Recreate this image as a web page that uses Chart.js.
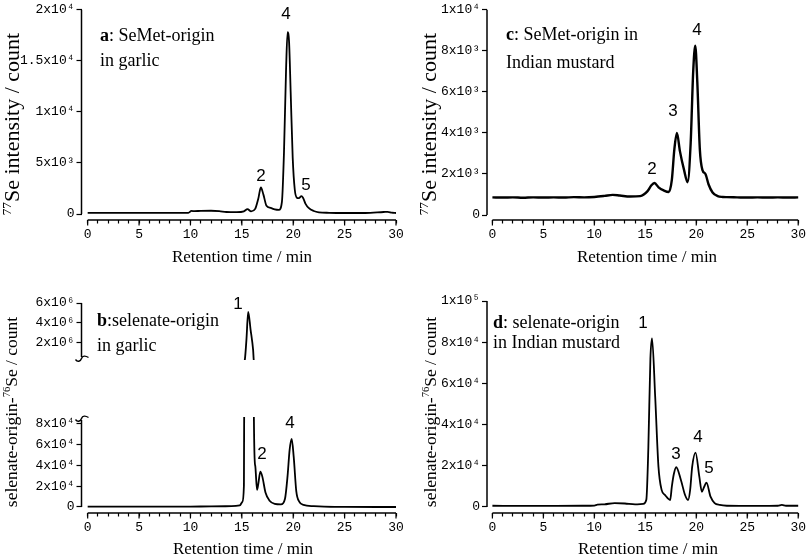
<!DOCTYPE html>
<html><head><meta charset="utf-8">
<script src="https://cdn.jsdelivr.net/npm/chart.js@4/dist/chart.umd.min.js"></script>
<style>
html,body{margin:0;padding:0;background:#fff;}
#wrap{position:relative;width:809px;height:556px;overflow:hidden;background:#fff;}
canvas{position:absolute;left:0;top:0;}
</style></head><body>
<div id="wrap">
<canvas id="ca" width="809" height="556"></canvas>
<canvas id="cc" width="809" height="556"></canvas>
<canvas id="cb1" width="809" height="556"></canvas>
<canvas id="cb2" width="809" height="556"></canvas>
<canvas id="cd" width="809" height="556"></canvas>
</div>
<script>
// ---------- data ----------
const aTime = [0, 2, 4, 6, 8, 9.8, 10.1, 10.4, 11, 12, 12.8, 13.5, 14.5, 15.2, 15.55, 15.9, 16.3, 16.6, 16.85, 17.1, 17.4, 17.8, 18.2, 18.6, 18.9, 19.1, 19.3, 19.45, 19.6, 19.75, 19.95, 20.15, 20.35, 20.55, 20.8, 20.95, 21.2, 21.5, 22, 22.5, 23.5, 25, 27, 28.8, 29.2, 29.6, 30];
const aVal  = [120, 110, 110, 110, 110, 120, 300, 280, 310, 320, 280, 200, 180, 260, 480, 260, 500, 1500, 2600, 1900, 800, 600, 450, 400, 1200, 6000, 14000, 17800, 16800, 12000, 5500, 2400, 1600, 1550, 1750, 1600, 1000, 600, 300, 170, 120, 100, 100, 200, 220, 130, 100];

const cTime = [0, 1, 2, 3, 4, 5, 6, 7, 8, 9, 10, 11, 11.8, 12.5, 13.5, 14.5, 15.2, 15.6, 15.9, 16.3, 16.8, 17.3, 17.6, 17.85, 18.1, 18.4, 18.8, 19.15, 19.45, 19.7, 19.9, 20.1, 20.35, 20.6, 20.9, 21.2, 21.6, 22.1, 22.6, 23, 24, 25, 26, 27, 28, 29, 30];
const cVal  = [860, 850, 860, 840, 860, 850, 860, 850, 870, 860, 880, 930, 980, 950, 900, 920, 1150, 1450, 1560, 1350, 1200, 1120, 1700, 3200, 4000, 3100, 2200, 1600, 3500, 7000, 8250, 6500, 3200, 2200, 2000, 1500, 1100, 920, 880, 870, 860, 850, 860, 850, 860, 850, 860];

const bTime = [0, 5, 10, 12, 14, 14.8, 15.05, 15.2, 15.3, 15.45, 15.62, 15.85, 16.1, 16.17, 16.3, 16.48, 16.6, 16.8, 17.0, 17.3, 17.7, 18.2, 18.8, 19.2, 19.45, 19.65, 19.85, 20.05, 20.3, 20.6, 21.0, 22.0, 23.0, 25, 30];
const bVal  = [300, 300, 400, 600, 800, 1500, 5000, 20000, 300000, 2300000, 5100000, 3300000, 1200000, 90000, 40000, 16500, 22000, 34000, 29000, 14000, 6000, 3000, 2500, 8000, 30000, 55000, 65500, 48000, 15000, 5000, 2000, 800, 300, 100, 0];

const dTime = [0, 3, 6, 9, 10, 10.3, 11, 12, 13, 14, 14.8, 15.1, 15.3, 15.5, 15.66, 15.97, 16.29, 16.6, 16.94, 17.44, 17.6, 17.8, 18.03, 18.5, 18.9, 19.2, 19.4, 19.6, 19.93, 20.3, 20.55, 20.75, 21.0, 21.4, 21.8, 22.3, 23, 26, 28, 28.4, 28.8, 30];
const dVal  = [600, 550, 550, 600, 700, 1100, 1300, 1900, 1700, 1300, 1500, 3500, 29000, 72000, 81900, 53500, 19600, 8300, 5800, 3400, 9800, 16000, 19300, 13000, 5800, 3400, 8300, 19600, 26400, 14700, 7400, 9500, 11800, 5000, 1900, 1000, 600, 500, 600, 1000, 600, 600];

const xTicks = [0,1,2,3,4,5,6,7,8,9,10,11,12,13,14,15,16,17,18,19,20,21,22,23,24,25,26,27,28,29,30];
const xMajor = [0,5,10,15,20,25,30];
const xMajorLabels = ['0','5','10','15','20','25','30'];

const aYTicks = [0, 5000, 10000, 15000, 20000];
const aYLabels = ['0', '5x10³', '1x10⁴', '1.5x10⁴', '2x10⁴'];
const cYTicks = [0, 2000, 4000, 6000, 8000, 10000];
const cYLabels = ['0', '2x10³', '4x10³', '6x10³', '8x10³', '1x10⁴'];
const bUpYTicks = [2000000, 4000000, 6000000];
const bUpYLabels = ['2x10⁶', '4x10⁶', '6x10⁶'];
const bLoYTicks = [0, 20000, 40000, 60000, 80000];
const bLoYLabels = ['0', '2x10⁴', '4x10⁴', '6x10⁴', '8x10⁴'];
const dYTicks = [0, 20000, 40000, 60000, 80000, 100000];
const dYLabels = ['0', '2x10⁴', '4x10⁴', '6x10⁴', '8x10⁴', '1x10⁵'];

// ---------- drawing helpers ----------
const SERIF = 'Liberation Serif';
const SANS = 'Liberation Sans';
const MONO = '"Liberation Mono", "DejaVu Sans Mono", monospace';

function rich(ctx, t) {
  const size = t.size, fam = t.family;
  const parts = t.segs.map(s => {
    const sz = s.sup ? size * 0.6 : size;
    const font = (s.bold ? 'bold ' : '') + sz + 'px "' + fam + '"';
    ctx.font = font;
    return { s, font, w: ctx.measureText(s.t).width };
  });
  const W = parts.reduce((a, p) => a + p.w, 0);
  ctx.save();
  ctx.translate(t.x, t.y);
  if (t.rotate) ctx.rotate(-Math.PI / 2);
  ctx.fillStyle = '#000';
  ctx.textBaseline = 'alphabetic';
  ctx.textAlign = 'left';
  let x0 = t.align === 'center' ? -W / 2 : 0;
  const base = size * 0.34;
  for (const p of parts) {
    ctx.font = p.font;
    ctx.fillText(p.s.t, x0, base - (p.s.sup ? size * 0.38 : 0));
    x0 += p.w;
  }
  ctx.restore();
}

function breakMark(ctx, x, y) {
  ctx.beginPath();
  ctx.moveTo(x - 6, y + 1);
  ctx.bezierCurveTo(x - 4, y + 4, x - 1, y + 3, x, y);
  ctx.bezierCurveTo(x + 1, y - 3, x + 4, y - 3, x + 7, y - 1);
  ctx.stroke();
}

function makeChart(id, p) {
  const Y_W = 70, X_H = 30;
  const pad = {
    left: p.area.left - Y_W,
    right: 809 - p.area.right,
    top: p.area.top,
    bottom: p.showX ? 556 - p.area.bottom - X_H : 556 - p.area.bottom
  };
  const deco = {
    id: 'deco' + id,
    afterDraw(chart) {
      const ctx = chart.ctx, ca = chart.chartArea;
      const xs = chart.scales.x, ys = chart.scales.y;
      ctx.save();
      ctx.strokeStyle = '#000';
      ctx.lineWidth = 1.5;
      const yt = p.yLineTop ? p.yLineTop(ca, ys) : ys.getPixelForValue(p.yMax);
      const yb = p.yLineBottom ? p.yLineBottom(ca, ys) : ys.getPixelForValue(0);
      ctx.beginPath();
      ctx.moveTo(ca.left, yt);
      ctx.lineTo(ca.left, yb);
      ctx.stroke();
      if (p.showX) {
        ctx.beginPath();
        ctx.moveTo(xs.getPixelForValue(0), ca.bottom);
        ctx.lineTo(xs.getPixelForValue(30), ca.bottom);
        ctx.stroke();
        ctx.lineWidth = 1.2;
        for (const v of xMajor) {
          const px = xs.getPixelForValue(v);
          ctx.beginPath();
          ctx.moveTo(px, ca.bottom);
          ctx.lineTo(px, ca.bottom + 5.5);
          ctx.stroke();
        }
      }
      ctx.lineWidth = 1.4;
      if (p.breakBottom) breakMark(ctx, ca.left, yb + 1.5);
      if (p.breakTop) breakMark(ctx, ca.left, yt - 1.5);
      ctx.restore();
      (p.texts || []).forEach(t => rich(ctx, t));
    }
  };
  return new Chart(document.getElementById(id), {
    type: 'line',
    data: {
      datasets: [{
        data: p.time.map((t, i) => ({ x: t, y: p.val[i] })),
        borderColor: '#000',
        borderWidth: p.lw || 1.8,
        pointRadius: 0,
        fill: false,
        cubicInterpolationMode: 'monotone',
        clip: p.clip != null ? p.clip : 2
      }]
    },
    options: {
      responsive: false,
      animation: false,
      events: [],
      layout: { padding: pad, autoPadding: false },
      plugins: { legend: { display: false }, tooltip: { enabled: false }, title: { display: false } },
      scales: {
        x: {
          type: 'linear',
          display: !!p.showX,
          min: p.xMin, max: 30,
          afterBuildTicks: s => { s.ticks = xTicks.map(v => ({ value: v })); },
          afterFit: s => { s.height = X_H; },
          grid: { display: true, drawOnChartArea: false, drawTicks: true, tickLength: 3.5, tickWidth: 1.2, tickColor: '#000' },
          border: { display: false },
          ticks: {
            autoSkip: false, maxRotation: 0, minRotation: 0, padding: 3,
            color: '#000', font: { family: MONO, size: 13 },
            callback: v => { const k = xMajor.indexOf(v); return k >= 0 ? xMajorLabels[k] : ''; }
          }
        },
        y: {
          type: 'linear',
          min: p.yMin, max: p.yMax,
          afterBuildTicks: s => { s.ticks = p.yTicks.map(v => ({ value: v })); },
          afterFit: s => { s.width = Y_W; },
          grid: { display: true, drawOnChartArea: false, drawTicks: true, tickLength: 5, tickWidth: 1.2, tickColor: '#000' },
          border: { display: false },
          ticks: {
            padding: 2, color: '#000', font: { family: MONO, size: 13 },
            callback: (v, i) => p.yLabels[i]
          }
        }
      }
    },
    plugins: [deco]
  });
}

const T = (t, o) => Object.assign({ t }, o || {});

// Panel a
makeChart('ca', {
  time: aTime, val: aVal, showX: true,
  area: { left: 81.5, right: 396, top: 9, bottom: 220 },
  xMin: -0.6, yMin: -585, yMax: 20000, yTicks: aYTicks, yLabels: aYLabels,
  texts: [
    { segs: [T('a', { bold: true }), T(': SeMet-origin')], x: 100, y: 35, size: 18, family: SERIF },
    { segs: [T('in garlic')], x: 100, y: 60, size: 18, family: SERIF },
    { segs: [T('77', { sup: true }), T('Se intensity / count')], x: 12, y: 124, size: 22, family: SERIF, align: 'center', rotate: true },
    { segs: [T('Retention time / min')], x: 242, y: 256, size: 17, family: SERIF, align: 'center' },
    { segs: [T('4')], x: 286, y: 13, size: 17, family: SANS, align: 'center' },
    { segs: [T('2')], x: 261, y: 175, size: 17, family: SANS, align: 'center' },
    { segs: [T('5')], x: 306, y: 184, size: 17, family: SANS, align: 'center' }
  ]
});

// Panel c
makeChart('cc', {
  time: cTime, val: cVal, showX: true, lw: 2.4,
  area: { left: 487, right: 801, top: 9, bottom: 220 },
  xMin: -0.53, yMin: -243, yMax: 10000, yTicks: cYTicks, yLabels: cYLabels,
  texts: [
    { segs: [T('c', { bold: true }), T(': SeMet-origin in')], x: 506, y: 34, size: 18, family: SERIF },
    { segs: [T('Indian mustard')], x: 506, y: 62, size: 18, family: SERIF },
    { segs: [T('77', { sup: true }), T('Se intensity / count')], x: 429, y: 124, size: 22, family: SERIF, align: 'center', rotate: true },
    { segs: [T('Retention time / min')], x: 647, y: 256, size: 17, family: SERIF, align: 'center' },
    { segs: [T('2')], x: 652, y: 168, size: 17, family: SANS, align: 'center' },
    { segs: [T('3')], x: 673, y: 110, size: 17, family: SANS, align: 'center' },
    { segs: [T('4')], x: 697, y: 29, size: 17, family: SANS, align: 'center' }
  ]
});

// Panel b (upper, broken axis)
makeChart('cb1', {
  time: bTime, val: bVal, showX: false, clip: 0,
  area: { left: 81.5, right: 396, top: 303, bottom: 390 },
  xMin: -0.6, yMin: 200000, yMax: 6000000, yTicks: bUpYTicks, yLabels: bUpYLabels,
  yLineBottom: (ca) => ca.bottom - 3, breakBottom: true,
  texts: [
    { segs: [T('b', { bold: true }), T(':selenate-origin')], x: 97, y: 320, size: 18, family: SERIF },
    { segs: [T('in garlic')], x: 97, y: 345, size: 18, family: SERIF },
    { segs: [T('selenate-origin-'), T('76', { sup: true }), T('Se / count')], x: 11, y: 412, size: 17.5, family: SERIF, align: 'center', rotate: true },
    { segs: [T('1')], x: 238, y: 303, size: 17, family: SANS, align: 'center' }
  ]
});

// Panel b (lower)
makeChart('cb2', {
  time: bTime, val: bVal, showX: true, clip: 0,
  area: { left: 81.5, right: 396, top: 417, bottom: 513 },
  xMin: -0.6, yMin: -5783, yMax: 86700, yTicks: bLoYTicks, yLabels: bLoYLabels,
  yLineTop: (ca) => ca.top + 3, breakTop: true,
  texts: [
    { segs: [T('Retention time / min')], x: 243, y: 548, size: 17, family: SERIF, align: 'center' },
    { segs: [T('2')], x: 262, y: 453, size: 17, family: SANS, align: 'center' },
    { segs: [T('4')], x: 290, y: 422, size: 17, family: SANS, align: 'center' }
  ]
});

// Panel d
makeChart('cd', {
  time: dTime, val: dVal, showX: true,
  area: { left: 487, right: 801, top: 301, bottom: 513 },
  xMin: -0.53, yMin: -2913, yMax: 100000, yTicks: dYTicks, yLabels: dYLabels,
  texts: [
    { segs: [T('d', { bold: true }), T(': selenate-origin')], x: 493, y: 322, size: 18, family: SERIF },
    { segs: [T('in Indian mustard')], x: 493, y: 342, size: 18, family: SERIF },
    { segs: [T('selenate-origin-'), T('76', { sup: true }), T('Se / count')], x: 430, y: 412, size: 17.5, family: SERIF, align: 'center', rotate: true },
    { segs: [T('Retention time / min')], x: 648, y: 548, size: 17, family: SERIF, align: 'center' },
    { segs: [T('1')], x: 643, y: 322, size: 17, family: SANS, align: 'center' },
    { segs: [T('3')], x: 676, y: 453, size: 17, family: SANS, align: 'center' },
    { segs: [T('4')], x: 698, y: 436, size: 17, family: SANS, align: 'center' },
    { segs: [T('5')], x: 709, y: 467, size: 17, family: SANS, align: 'center' }
  ]
});
</script>
</body></html>
